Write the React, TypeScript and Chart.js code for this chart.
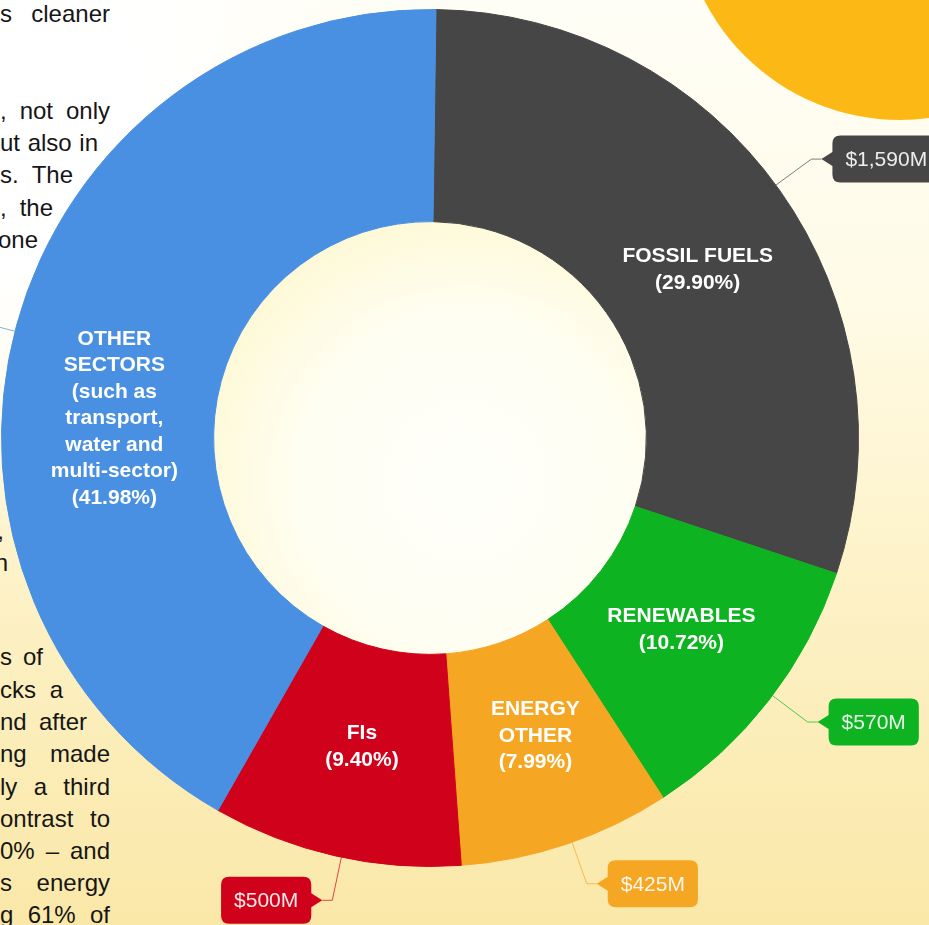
import React, { useEffect, useRef } from "react";
import { Chart, registerables } from "chart.js";

Chart.register(...registerables);

// ---------- data ----------
const categories = [
  "FOSSIL FUELS",
  "RENEWABLES",
  "ENERGY OTHER",
  "FIs",
  "OTHER SECTORS (such as transport, water and multi-sector)",
];
const labelLines = [
  ["FOSSIL FUELS"],
  ["RENEWABLES"],
  ["ENERGY", "OTHER"],
  ["FIs"],
  ["OTHER", "SECTORS", "(such as", "transport,", "water and", "multi-sector)"],
];
const sharePercent = [29.9, 10.72, 7.99, 9.4, 41.98];
const amountLabels = ["$1,590M", "$570M", "$425M", "$500M", "$2,233M"];
const sliceColors = ["#464646", "#0db320", "#f5a623", "#d0021b", "#4a90e2"];

const paragraphLines = [
  "s cleaner",
  ", not only",
  "ut also in",
  "s. The",
  ", the",
  "one",
  ",",
  "n",
  "s of",
  "cks a",
  "nd after",
  "ng made",
  "ly a third",
  "ontrast to",
  "0% \u2013 and",
  "s energy",
  "g 61% of",
];
// [right edge x, baseline y]
const paragraphLayout = [
  [110, 22], [110, 119], [98, 151], [73, 183], [53, 216], [38, 248],
  [4, 539], [8, 571], [43, 665], [63, 698], [87, 730], [110, 762],
  [110, 795], [110, 827], [110, 859], [110, 891], [110, 923],
];

// ---------- plugin ----------
const calloutPlugin = {
  id: "callouts",
  afterDatasetsDraw(chart: any, _args: any, opts: any) {
    const ctx: CanvasRenderingContext2D = chart.ctx;
    const meta = chart.getDatasetMeta(0);
    ctx.save();
    meta.data.forEach((arc: any, i: number) => {
      const p = arc.getProps(["x", "y", "startAngle", "endAngle", "innerRadius", "outerRadius"], true);
      const midRaw = (p.startAngle + p.endAngle) / 2;

      // slice label
      const la = midRaw + ((opts.angleShift && opts.angleShift[i]) || 0) * Math.PI / 180;
      const lr = p.outerRadius * opts.labelRadius;
      const lx = p.x + Math.cos(la) * lr;
      const ly = p.y + Math.sin(la) * lr;
      const lines = [...labelLines[i], `(${sharePercent[i].toFixed(2)}%)`];
      ctx.font = "bold 21px 'Liberation Sans', Arial, sans-serif";
      ctx.fillStyle = "#ffffff";
      ctx.textAlign = "center";
      ctx.textBaseline = "middle";
      const lh = 26.5;
      lines.forEach((t, k) => ctx.fillText(t, lx, ly + (k - (lines.length - 1) / 2) * lh));

      // callout leader
      const mid = midRaw + (opts.calloutShift || 0) * Math.PI / 180;
      const color = sliceColors[i];
      const cos = Math.cos(mid), sin = Math.sin(mid);
      const sx = p.x + cos * p.outerRadius, sy = p.y + sin * p.outerRadius;
      const ex = p.x + cos * (p.outerRadius + 44), ey = p.y + sin * (p.outerRadius + 44);
      const dir = cos >= 0 ? 1 : -1;
      const tx = ex + dir * 10;
      ctx.globalAlpha = 0.7;
      ctx.strokeStyle = color;
      ctx.lineWidth = 1;
      ctx.beginPath();
      ctx.moveTo(sx, sy);
      ctx.lineTo(ex, ey);
      ctx.lineTo(tx, ey);
      ctx.stroke();
      ctx.globalAlpha = 1;

      // callout box
      ctx.font = "21px 'Liberation Sans', Arial, sans-serif";
      const tw = ctx.measureText(amountLabels[i]).width;
      const bw = tw + 26, bh = 47, r = 8, nh = 7;
      const bx = dir > 0 ? tx + 11 : tx - 11 - bw;
      const by = ey - bh / 2;
      ctx.fillStyle = color;
      ctx.beginPath();
      ctx.moveTo(bx + r, by);
      ctx.lineTo(bx + bw - r, by);
      ctx.quadraticCurveTo(bx + bw, by, bx + bw, by + r);
      if (dir < 0) {
        ctx.lineTo(bx + bw, ey - nh);
        ctx.lineTo(tx, ey);
        ctx.lineTo(bx + bw, ey + nh);
      }
      ctx.lineTo(bx + bw, by + bh - r);
      ctx.quadraticCurveTo(bx + bw, by + bh, bx + bw - r, by + bh);
      ctx.lineTo(bx + r, by + bh);
      ctx.quadraticCurveTo(bx, by + bh, bx, by + bh - r);
      if (dir > 0) {
        ctx.lineTo(bx, ey + nh);
        ctx.lineTo(tx, ey);
        ctx.lineTo(bx, ey - nh);
      }
      ctx.lineTo(bx, by + r);
      ctx.quadraticCurveTo(bx, by, bx + r, by);
      ctx.closePath();
      ctx.fill();
      ctx.fillStyle = "rgba(255,255,255,0.9)";
      ctx.textAlign = "center";
      ctx.textBaseline = "middle";
      ctx.fillText(amountLabels[i], bx + bw / 2, ey + 1);
    });
    ctx.restore();
  },
};

export default function App() {
  const ref = useRef<HTMLCanvasElement | null>(null);

  useEffect(() => {
    if (!ref.current) return;
    const chart = new Chart(ref.current, {
      type: "doughnut",
      data: {
        labels: categories,
        datasets: [
          {
            data: sharePercent,
            backgroundColor: sliceColors,
            borderColor: sliceColors,
            borderWidth: 1,
            hoverOffset: 0,
            offset: 0,
          } as any,
        ],
      },
      options: {
        responsive: false,
        animation: false,
        devicePixelRatio: 1,
        events: [],
        rotation: 0.8,
        cutout: "50.5%",
        layout: { padding: { left: 1, top: 9, right: 70, bottom: 58 } },
        plugins: {
          legend: { display: false },
          tooltip: { enabled: false },
          callouts: {
            angleShift: [3.2, -0.4, -0.9, -0.3, -11.7],
            labelRadius: 0.738,
            calloutShift: -0.8,
          },
        } as any,
      },
      plugins: [calloutPlugin as any],
    });
    return () => chart.destroy();
  }, []);

  return (
    <div
      style={{
        position: "fixed",
        left: 0,
        top: 0,
        width: 929,
        height: 925,
        overflow: "hidden",
        background:
          "radial-gradient(ellipse 320px 420px at 30px 120px, rgba(255,255,255,1) 35%, rgba(255,255,255,0) 100%)," +
          "linear-gradient(180deg, #fffef6 0%, #fffbe8 30%, #fdf2c8 62%, #fae8a8 100%)",
      }}
    >
      <div
        style={{
          position: "absolute",
          left: 680,
          top: -320,
          width: 440,
          height: 440,
          borderRadius: "50%",
          background: "#fcb915",
        }}
      />
      <div
        style={{
          position: "absolute",
          left: 212,
          top: 220,
          width: 436,
          height: 436,
          borderRadius: "50%",
          background:
            "radial-gradient(circle at 58% 60%, #fffffb 0%, #fffef2 45%, #fdf8d2 80%, #fbf09c 100%)",
        }}
      />
      {paragraphLines.map((t, i) => {
        const multi = t.indexOf(" ") >= 0;
        return (
          <div
            key={i}
            style={{
              position: "absolute",
              left: multi ? 0 : undefined,
              right: multi ? undefined : 929 - paragraphLayout[i][0],
              width: multi ? paragraphLayout[i][0] : undefined,
              top: paragraphLayout[i][1] - 20.3,
              whiteSpace: multi ? "normal" : "pre",
              textAlign: multi ? "justify" : "right",
              textAlignLast: multi ? "justify" : "right",
              fontFamily: "'Liberation Sans', Arial, sans-serif",
              fontSize: 24,
              lineHeight: "24px",
              color: "#161616",
            } as any}
          >
            {t}
          </div>
        );
      })}
      <canvas
        ref={ref}
        width={929}
        height={925}
        style={{ position: "absolute", left: 0, top: 0, width: 929, height: 925 }}
      />
    </div>
  );
}
